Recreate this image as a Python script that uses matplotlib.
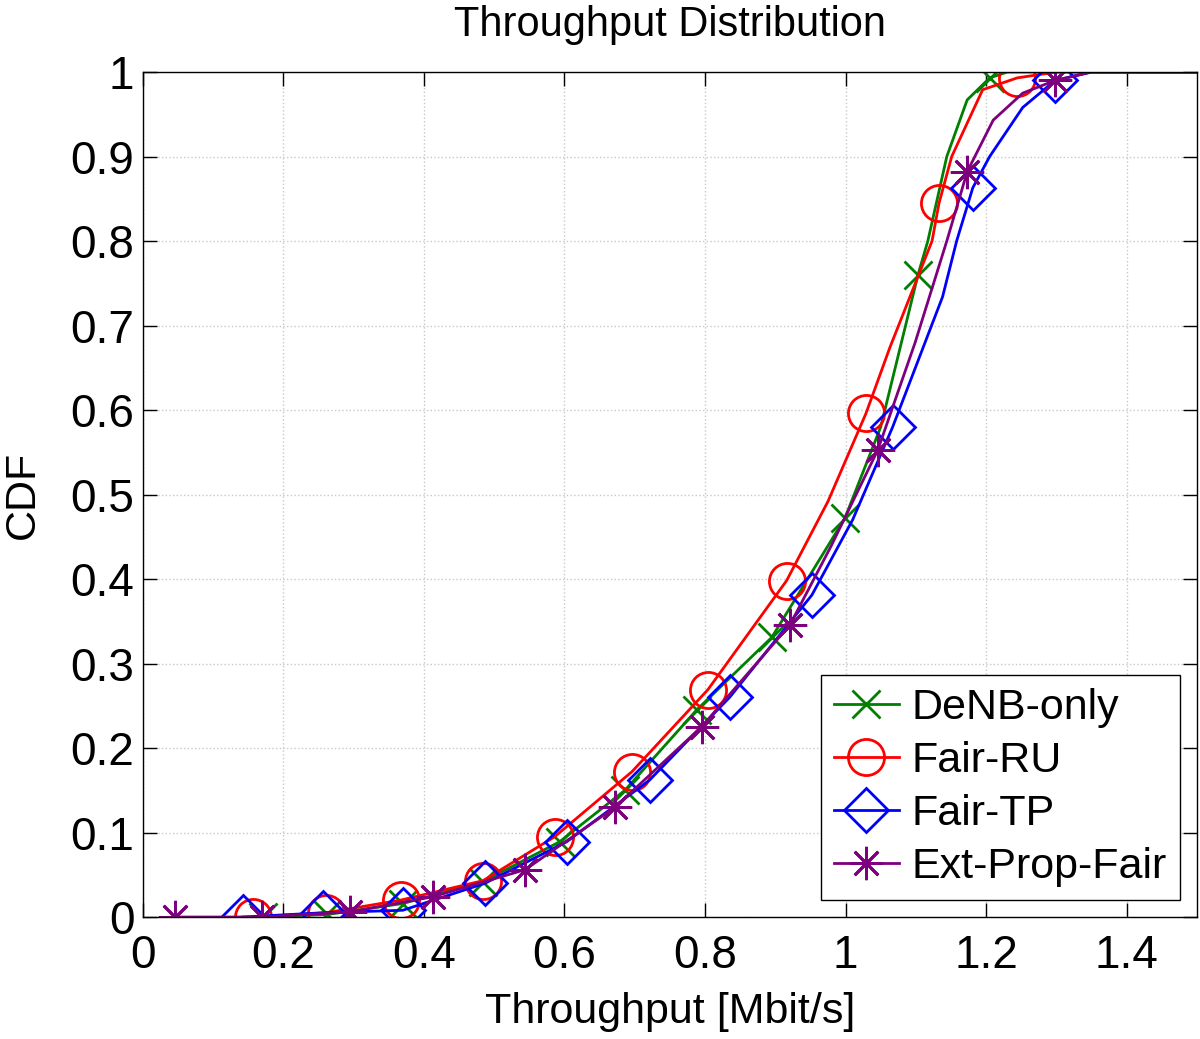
import matplotlib
matplotlib.use('Agg')
import matplotlib.pyplot as plt

plt.rcParams['font.family'] = ['Liberation Sans', 'DejaVu Sans']

# curve points; *_mk = indices carrying a marker
denb_x = [0.171, 0.262, 0.37, 0.484, 0.593, 0.686, 0.788, 0.895, 0.999, 1.05, 1.103,
          1.117, 1.144, 1.173, 1.205, 1.23, 1.3, 1.5]
denb_y = [0.0, 0.003, 0.016, 0.042, 0.089, 0.150, 0.245, 0.331, 0.472, 0.58, 0.76,
          0.80, 0.90, 0.967, 0.993, 1.0, 1.0, 1.0]
denb_mk = [0, 1, 2, 3, 4, 5, 6, 7, 8, 10, 14]

ru_x = [0.157, 0.26, 0.367, 0.484, 0.586, 0.696, 0.804, 0.916, 0.975, 1.029, 1.063, 1.123,
        1.133, 1.151, 1.195, 1.244, 1.3, 1.5]
ru_y = [0.0, 0.005, 0.02, 0.043, 0.095, 0.172, 0.269, 0.398, 0.492, 0.596, 0.674, 0.80,
        0.845, 0.90, 0.979, 0.993, 1.0, 1.0]
ru_mk = [0, 1, 2, 3, 4, 5, 6, 7, 9, 12, 15]

tp_x = [0.142, 0.256, 0.37, 0.487, 0.603, 0.721, 0.835, 0.952, 1.01, 1.067, 1.138,
        1.158, 1.181, 1.205, 1.252, 1.298, 1.35, 1.5]
tp_y = [0.0, 0.005, 0.008, 0.04, 0.089, 0.162, 0.26, 0.381, 0.47, 0.58, 0.734,
        0.80, 0.863, 0.90, 0.958, 0.99, 1.0, 1.0]
tp_mk = [0, 1, 2, 3, 4, 5, 6, 7, 9, 12, 15]

epf_x = [0.046, 0.169, 0.295, 0.413, 0.544, 0.672, 0.795, 0.921, 0.98, 1.046, 1.099,
         1.144, 1.173, 1.21, 1.252, 1.298, 1.35, 1.5]
epf_y = [0.0, 0.0, 0.006, 0.024, 0.056, 0.13, 0.225, 0.346, 0.44, 0.553, 0.68,
         0.80, 0.882, 0.943, 0.975, 0.99, 1.0, 1.0]
epf_mk = [0, 1, 2, 3, 4, 5, 6, 7, 9, 12, 15]

series = [
    ('DeNB-only', denb_x, denb_y, denb_mk, '#007f00', 'x', 20),
    ('Fair-RU', ru_x, ru_y, ru_mk, '#ff0000', 'o', 26),
    ('Fair-TP', tp_x, tp_y, tp_mk, '#0000ff', 'D', 22),
    ('Ext-Prop-Fair', epf_x, epf_y, epf_mk, '#7f007f', (8, 2, 0), 24),
]

fig = plt.figure(figsize=(12, 10.39), dpi=100)
ax = fig.add_axes([0.119, 0.1174, 0.8785, 0.8133])

for name, xs, ys, mk, col, marker, ms in series:
    ax.plot(xs, ys, color=col, lw=2.0, marker=marker, markevery=mk,
            markersize=ms, markerfacecolor='none', markeredgecolor=col,
            markeredgewidth=2.0, label=name)

ax.set_xlim(0, 1.5)
ax.set_ylim(0, 1)
ax.set_xticks([0, 0.2, 0.4, 0.6, 0.8, 1, 1.2, 1.4])
ax.set_xticklabels(['0', '0.2', '0.4', '0.6', '0.8', '1', '1.2', '1.4'])
ax.set_yticks([i / 10 for i in range(11)])
ax.set_yticklabels(['0', '0.1', '0.2', '0.3', '0.4', '0.5', '0.6', '0.7', '0.8', '0.9', '1'])
ax.tick_params(axis='both', direction='in', length=10, width=1, labelsize=33,
               top=True, right=True)
ax.tick_params(axis='x', pad=12)
ax.tick_params(axis='y', pad=6)
ax.grid(True, color='#c8c8c8', linestyle=':', linewidth=1)
for s in ax.spines.values():
    s.set_linewidth(1)

ax.set_title('Throughput Distribution', fontsize=30, pad=26)
ax.set_xlabel('Throughput [Mbit/s]', fontsize=31, labelpad=10)
ax.set_ylabel('CDF', fontsize=31, labelpad=20)

leg = ax.legend(loc='lower right', fontsize=31, fancybox=False, edgecolor='black',
                framealpha=1, handlelength=1.5, handletextpad=0.3, borderpad=0.3,
                labelspacing=0.3, borderaxespad=0.4)
leg.get_frame().set_linewidth(1)

plt.savefig('out.png', dpi=100)
